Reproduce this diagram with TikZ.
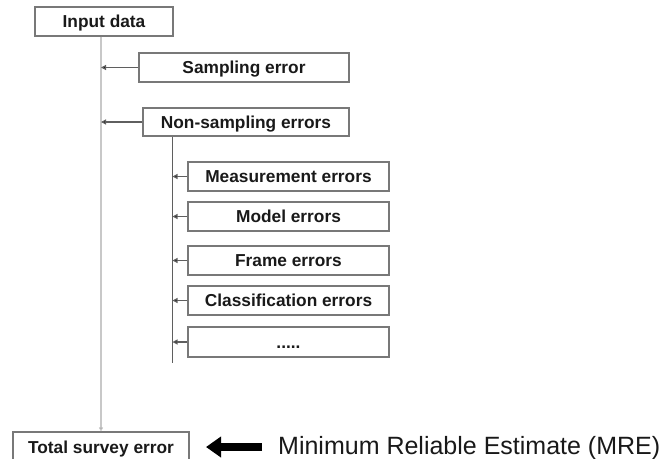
\documentclass[tikz,border=0pt]{standalone}
\usepackage{fontspec}
\setmainfont{Liberation Sans}
\usetikzlibrary{arrows.meta}
\definecolor{boxgray}{RGB}{120,120,120}
\definecolor{linegray}{RGB}{95,95,95}
\definecolor{spinegray}{RGB}{200,200,200}
\definecolor{textdark}{RGB}{25,25,25}
\begin{document}
\begin{tikzpicture}[x=1pt,y=-1pt,
  ebox/.style={draw=boxgray, line width=1.1pt, inner sep=0pt, text=textdark,
    font=\fontsize{17.3}{20}\selectfont\bfseries, text height=12.4pt, text depth=0pt,
    minimum height=29pt},
  feed/.style={draw=linegray, line width=1.1pt, -{Triangle[length=5pt,width=5pt,fill=black]}},
  spine/.style={draw=spinegray, line width=1.4pt, -{Triangle[length=4pt,width=4pt,fill=black]}},
  subspine/.style={draw=linegray, line width=1.1pt},
  bigarrow/.style={draw=black, line width=8pt, -{Triangle[length=15pt,width=20pt]}},
]
\useasboundingbox (0,0) rectangle (664,458);
\clip (0,0) rectangle (664,458);

\node[ebox, minimum width=138pt] (input) at (104,21.5) {Input data};
\node[ebox, minimum width=210pt] (samp) at (244,67.5) {Sampling error};
\node[ebox, minimum width=206pt, minimum height=28pt] (nons) at (246,122) {Non-sampling errors};
\node[ebox, minimum width=201pt] (meas) at (288.5,176.5) {Measurement errors};
\node[ebox, minimum width=201pt] (model) at (288.5,216.5) {Model errors};
\node[ebox, minimum width=201pt] (frame) at (288.5,260.5) {Frame errors};
\node[ebox, minimum width=201pt] (class) at (288.5,300.5) {Classification errors};
\node[ebox, minimum width=201pt, minimum height=30pt] (dots) at (288.5,342) {.....};
\node[ebox, minimum width=176pt, minimum height=30pt] (total) at (101,447) {Total survey error};

\node[anchor=base west, inner sep=0pt, text=textdark, font=\fontsize{25}{28}\selectfont] (mre) at (278,454) {Minimum Reliable Estimate (MRE)};

% main spine
\draw[spine] (input.south -| total.north) -- (total.north);
% first-level feeds
\draw[feed] (samp.west) -- (samp.west -| total.north);
\draw[feed] (nons.west) -- (nons.west -| total.north);
% sub spine
\coordinate (subend) at (172.5,363);
\draw[subspine] (nons.south -| subend) -- (subend);
\foreach \n in {meas,model,frame,class,dots}
  \draw[feed] (\n.west) -- (\n.west -| subend);

% big arrow
\coordinate (tail) at (262,447);
\coordinate (tip) at (206,447);
\draw[bigarrow] (tail) -- (tip);
\end{tikzpicture}
\end{document}
